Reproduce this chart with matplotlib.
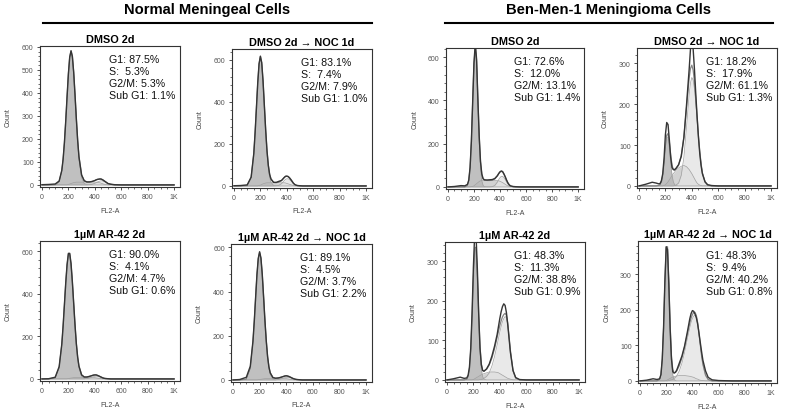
import numpy as np
import matplotlib.pyplot as plt
from matplotlib.ticker import MultipleLocator, AutoMinorLocator, FixedLocator, FixedFormatter
from matplotlib.lines import Line2D

plt.rcParams['font.family'] = ['Liberation Sans', 'DejaVu Sans']

# FL2-A channel positions the histogram values were read at
channel = [0, 50, 100, 130, 150, 160, 170, 180, 190, 200,
           210, 220, 230, 240, 250, 260, 270, 280, 300, 320,
           340, 360, 380, 390, 400, 410, 420, 430, 440, 450,
           460, 470, 480, 500, 520, 550, 600, 700, 1000]

# --- Normal meningeal cells, DMSO 2d
raw_a = [1, 2, 4, 17, 63, 112, 185, 279, 384, 483, 556, 583, 559, 490, 393, 289, 195, 122, 43, 18,
         13, 13, 15, 17, 19, 22, 24, 25, 26, 25, 22, 18, 14, 6, 3, 1, 0, 0, 0]
g1_a = [0, 0, 1, 14, 61, 110, 183, 277, 382, 480, 551, 577, 551, 480, 382, 277, 183, 110, 31, 6,
        1, 0, 0, 0, 0, 0, 0, 0, 0, 0, 0, 0, 0, 0, 0, 0, 0, 0, 0]
s_a = [0, 0, 0, 0, 0, 0, 0, 0, 0, 2, 4, 6, 8, 10, 11, 12, 12, 12, 12, 12,
       12, 12, 12, 12, 12, 12, 11, 10, 9, 7, 5, 3, 2, 0, 0, 0, 0, 0, 0]
g2_a = [0, 0, 0, 0, 0, 0, 0, 0, 0, 0, 0, 0, 0, 0, 0, 0, 0, 0, 0, 0,
        0, 1, 3, 5, 7, 10, 13, 15, 17, 18, 17, 15, 12, 6, 3, 0, 0, 0, 0]

# --- Normal, DMSO 2d -> NOC 1d
raw_b = [1, 2, 5, 42, 154, 254, 373, 492, 582, 618, 587, 500, 383, 266, 167, 98, 55, 33, 17, 17,
         22, 26, 40, 46, 47, 45, 39, 31, 22, 13, 7, 4, 2, 1, 0, 0, 0, 0, 0]
g1_b = [0, 0, 2, 40, 152, 252, 371, 490, 579, 612, 579, 490, 371, 252, 152, 83, 40, 18, 2, 0,
        0, 0, 0, 0, 0, 0, 0, 0, 0, 0, 0, 0, 0, 0, 0, 0, 0, 0, 0]
s_b = [0, 0, 0, 0, 0, 0, 0, 0, 2, 4, 7, 10, 12, 14, 15, 15, 15, 15, 15, 15,
       15, 15, 15, 14, 12, 10, 8, 6, 4, 2, 1, 0, 0, 0, 0, 0, 0, 0, 0]
g2_b = [0, 0, 0, 0, 0, 0, 0, 0, 0, 0, 0, 0, 0, 0, 0, 0, 0, 0, 0, 1,
        3, 11, 25, 31, 34, 34, 31, 25, 18, 11, 6, 3, 2, 0, 0, 0, 0, 0, 0]

# --- Ben-Men-1, DMSO 2d
raw_c = [0, 2, 6, 5, 12, 32, 90, 212, 395, 575, 665, 590, 400, 235, 118, 60, 38, 33, 32, 33,
         34, 39, 52, 62, 70, 74, 71, 60, 47, 32, 19, 10, 5, 2, 1, 0, 0, 0, 0]
g1_c = [0, 0, 0, 0, 7, 28, 87, 208, 388, 565, 640, 565, 388, 208, 87, 28, 7, 1, 0, 0,
        0, 0, 0, 0, 0, 0, 0, 0, 0, 0, 0, 0, 0, 0, 0, 0, 0, 0, 0]
s_c = [0, 0, 0, 0, 0, 0, 0, 1, 2, 5, 10, 15, 20, 25, 28, 30, 30, 30, 30, 30,
       30, 30, 29, 28, 26, 23, 20, 16, 12, 8, 5, 3, 1, 0, 0, 0, 0, 0, 0]
g2_c = [0, 0, 0, 0, 0, 0, 0, 0, 0, 0, 0, 0, 0, 0, 0, 0, 0, 0, 0, 0,
        1, 7, 23, 34, 43, 49, 49, 43, 34, 23, 14, 7, 3, 1, 0, 0, 0, 0, 0]

# --- Ben-Men-1, DMSO 2d -> NOC 1d
raw_d = [0, 4, 9, 7, 5, 6, 13, 30, 68, 125, 155, 150, 112, 70, 45, 40, 40, 43, 52, 72,
         118, 198, 285, 335, 355, 335, 285, 225, 170, 120, 80, 50, 30, 10, 3, 1, 0, 0, 0]
g1_d = [0, 0, 0, 0, 1, 3, 10, 26, 56, 92, 118, 118, 92, 56, 26, 10, 3, 1, 0, 0,
        0, 0, 0, 0, 0, 0, 0, 0, 0, 0, 0, 0, 0, 0, 0, 0, 0, 0, 0]
s_d = [0, 0, 0, 0, 0, 0, 0, 0, 1, 3, 6, 10, 15, 20, 25, 30, 34, 38, 44, 48,
       50, 47, 40, 35, 30, 24, 18, 12, 7, 4, 2, 1, 0, 0, 0, 0, 0, 0, 0]
g2_d = [0, 0, 0, 0, 0, 0, 0, 0, 0, 0, 0, 0, 0, 0, 0, 0, 1, 2, 7, 26,
        70, 144, 224, 252, 265, 259, 237, 202, 161, 119, 83, 54, 32, 10, 2, 0, 0, 0, 0]

# --- Normal, 1uM AR-42 2d
raw_e = [0, 1, 8, 58, 163, 249, 350, 452, 537, 590, 590, 542, 457, 356, 255, 167, 103, 60, 19, 9,
         9, 12, 16, 18, 19, 19, 17, 14, 11, 8, 5, 3, 2, 1, 0, 0, 0, 0, 0]
g1_e = [0, 0, 5, 52, 159, 246, 348, 450, 535, 584, 584, 535, 450, 348, 246, 159, 95, 52, 12, 2,
        0, 0, 0, 0, 0, 0, 0, 0, 0, 0, 0, 0, 0, 0, 0, 0, 0, 0, 0]
s_e = [0, 0, 0, 0, 0, 0, 0, 0, 0, 2, 3, 4, 5, 6, 7, 7, 7, 7, 7, 7,
       7, 7, 7, 7, 6, 5, 4, 3, 2, 1, 0, 0, 0, 0, 0, 0, 0, 0, 0]
g2_e = [0, 0, 0, 0, 0, 0, 0, 0, 0, 0, 0, 0, 0, 0, 0, 0, 0, 0, 0, 0,
        2, 5, 9, 11, 12, 13, 12, 11, 9, 7, 5, 3, 2, 1, 0, 0, 0, 0, 0]

# --- Normal, 1uM AR-42 2d -> NOC 1d
raw_f = [0, 2, 12, 62, 175, 266, 372, 476, 550, 580, 552, 478, 376, 270, 178, 106, 59, 32, 11, 8,
         9, 12, 16, 18, 19, 18, 16, 13, 10, 7, 5, 3, 2, 1, 0, 0, 0, 0, 0]
g1_f = [0, 0, 4, 52, 170, 263, 370, 473, 547, 575, 547, 473, 370, 263, 170, 99, 52, 25, 4, 0,
        0, 0, 0, 0, 0, 0, 0, 0, 0, 0, 0, 0, 0, 0, 0, 0, 0, 0, 0]
s_f = [0, 0, 0, 0, 0, 0, 0, 0, 1, 2, 3, 4, 5, 6, 7, 7, 7, 7, 7, 7,
       7, 7, 7, 7, 6, 5, 4, 3, 2, 1, 0, 0, 0, 0, 0, 0, 0, 0, 0]
g2_f = [0, 0, 0, 0, 0, 0, 0, 0, 0, 0, 0, 0, 0, 0, 0, 0, 0, 0, 0, 0,
        2, 5, 9, 11, 12, 12, 11, 10, 8, 6, 4, 3, 2, 1, 0, 0, 0, 0, 0]

# --- Ben-Men-1, 1uM AR-42 2d
raw_g = [0, 3, 7, 4, 5, 12, 32, 80, 170, 285, 370, 365, 280, 168, 80, 38, 24, 22, 28, 40,
         60, 85, 115, 135, 155, 172, 185, 192, 188, 170, 140, 105, 70, 24, 6, 1, 0, 0, 0]
g1_g = [0, 0, 0, 0, 2, 8, 27, 73, 156, 257, 330, 330, 257, 156, 73, 27, 8, 2, 0, 0,
        0, 0, 0, 0, 0, 0, 0, 0, 0, 0, 0, 0, 0, 0, 0, 0, 0, 0, 0]
s_g = [0, 0, 0, 0, 0, 0, 0, 0, 0, 1, 3, 5, 7, 9, 11, 13, 14, 16, 18, 20,
       20, 20, 19, 18, 16, 14, 12, 10, 8, 6, 4, 3, 2, 0, 0, 0, 0, 0, 0]
g2_g = [0, 0, 0, 0, 0, 0, 0, 0, 0, 0, 0, 0, 0, 0, 1, 1, 2, 4, 9, 18,
        35, 59, 89, 105, 121, 135, 147, 155, 160, 157, 139, 107, 73, 23, 5, 0, 0, 0, 0]

# --- Ben-Men-1, 1uM AR-42 2d -> NOC 1d
raw_h = [0, 2, 6, 4, 6, 18, 62, 150, 280, 378, 370, 272, 148, 62, 26, 22, 24, 30, 50, 70,
         98, 135, 175, 190, 198, 196, 188, 178, 160, 135, 108, 82, 58, 28, 10, 3, 1, 0, 0]
g1_h = [0, 0, 0, 0, 4, 17, 59, 149, 276, 375, 375, 276, 149, 59, 17, 4, 1, 0, 0, 0,
        0, 0, 0, 0, 0, 0, 0, 0, 0, 0, 0, 0, 0, 0, 0, 0, 0, 0, 0]
s_h = [0, 0, 0, 0, 0, 0, 0, 0, 0, 1, 3, 5, 7, 9, 11, 12, 13, 14, 15, 15,
       15, 14, 13, 12, 11, 10, 8, 6, 5, 3, 2, 1, 1, 0, 0, 0, 0, 0, 0]
g2_h = [0, 0, 0, 0, 0, 0, 0, 0, 0, 0, 0, 1, 2, 3, 4, 7, 10, 14, 28, 50,
        80, 116, 150, 165, 176, 183, 185, 178, 159, 131, 100, 70, 46, 16, 4, 0, 0, 0, 0]

group_titles = ['Normal Meningeal Cells', 'Ben-Men-1 Meningioma Cells']
panel_titles = ['DMSO 2d', 'DMSO 2d \u2192 NOC 1d', 'DMSO 2d', 'DMSO 2d \u2192 NOC 1d',
                '1\u00b5M AR-42 2d', '1\u00b5M AR-42 2d \u2192 NOC 1d',
                '1\u00b5M AR-42 2d', '1\u00b5M AR-42 2d \u2192 NOC 1d']
g1_pct = ['87.5', '83.1', '72.6', '18.2', '90.0', '89.1', '48.3', '48.3']
s_pct = ['5.3', '7.4', '12.0', '17.9', '4.1', '4.5', '11.3', '9.4']
g2m_pct = ['5.3', '7.9', '13.1', '61.1', '4.7', '3.7', '38.8', '40.2']
subg1_pct = ['1.1', '1.0', '1.4', '1.3', '0.6', '2.2', '0.9', '0.8']

raws = [raw_a, raw_b, raw_c, raw_d, raw_e, raw_f, raw_g, raw_h]
g1s = [g1_a, g1_b, g1_c, g1_d, g1_e, g1_f, g1_g, g1_h]
ss = [s_a, s_b, s_c, s_d, s_e, s_f, s_g, s_h]
g2s = [g2_a, g2_b, g2_c, g2_d, g2_e, g2_f, g2_g, g2_h]

# axis settings per panel
y_top = [604, 652, 643, 337, 648, 615, 348, 394]
y_step = [100, 200, 200, 100, 200, 200, 100, 100]
# axes boxes in pixels: left, top, right, bottom
boxes = [(40, 47, 180, 188), (232, 50, 372, 189), (446, 49, 584, 190), (637, 49, 777, 189),
         (40, 242, 180, 382), (231, 245, 372, 383), (445, 243, 585, 383), (638, 242, 777, 384)]

W, H = 785, 414
fig = plt.figure(figsize=(W / 100, H / 100), dpi=100)


def draw_panel(ax, i):
    x = np.array(channel)
    g1 = np.array(g1s[i])
    s = np.array(ss[i])
    g2 = np.array(g2s[i])
    ax.fill_between(x, 0, s, color='#d2d2d2', lw=0)
    ax.fill_between(x, 0, g2, color='#e4e4e4', alpha=0.8, lw=0)
    ax.fill_between(x, 0, g1, color='#b9b9b9', alpha=0.9, lw=0)
    for comp in (s, g2, g1):
        ax.plot(x, comp, color='#a0a0a0', lw=0.5)
    ax.plot(x, g1 + s + g2, color='#858585', lw=0.9)
    ax.plot(x, raws[i], color='#353535', lw=1.0)

    ax.set_xlim(-15, 1045)
    ax.set_ylim(-0.015 * y_top[i], y_top[i])
    ax.xaxis.set_major_locator(FixedLocator([0, 200, 400, 600, 800, 1000]))
    ax.xaxis.set_major_formatter(FixedFormatter(['0', '200', '400', '600', '800', '1K']))
    ax.xaxis.set_minor_locator(MultipleLocator(50))
    ax.yaxis.set_major_locator(MultipleLocator(y_step[i]))
    ax.yaxis.set_minor_locator(AutoMinorLocator(5))
    ax.tick_params(which='major', direction='out', length=2.5, width=0.6, labelsize=5,
                   labelcolor='#555555', color='#333333', pad=2)
    ax.tick_params(which='minor', direction='out', length=1.3, width=0.5, color='#333333')
    for sp in ax.spines.values():
        sp.set_color('#333333')
        sp.set_linewidth(0.8)

    ax.set_ylabel('Count', fontsize=5, color='#444444')
    ax.yaxis.set_label_coords(-0.2, 0.5)
    ax.set_xlabel('FL2-A', fontsize=5, color='#444444')
    ax.xaxis.set_label_coords(0.5, -0.14)
    ax.set_title(panel_titles[i], fontsize=7.8, fontweight='bold', pad=3)

    stats = 'G1: %s%%\nS:  %s%%\nG2/M: %s%%\nSub G1: %s%%' % (g1_pct[i], s_pct[i], g2m_pct[i], subg1_pct[i])
    ax.text(0.49, 0.94, stats, transform=ax.transAxes, ha='left', va='top',
            fontsize=7.7, linespacing=1.25, color='#111111')


for i, (l, t, r, b) in enumerate(boxes):
    ax = fig.add_axes([l / W, 1 - b / H, (r - l) / W, (b - t) / H])
    draw_panel(ax, i)

# group headers with a rule underneath
for title, (x0, x1) in zip(group_titles, [(43, 372), (445, 773)]):
    fig.text((x0 + x1) / 2 / W, 1 - 10 / H, title, ha='center', va='center',
             fontsize=10.6, fontweight='bold')
    fig.add_artist(Line2D([x0 / W, x1 / W], [1 - 24 / H, 1 - 24 / H], color='black', lw=1.5))

fig.savefig('out.png', dpi=100)
